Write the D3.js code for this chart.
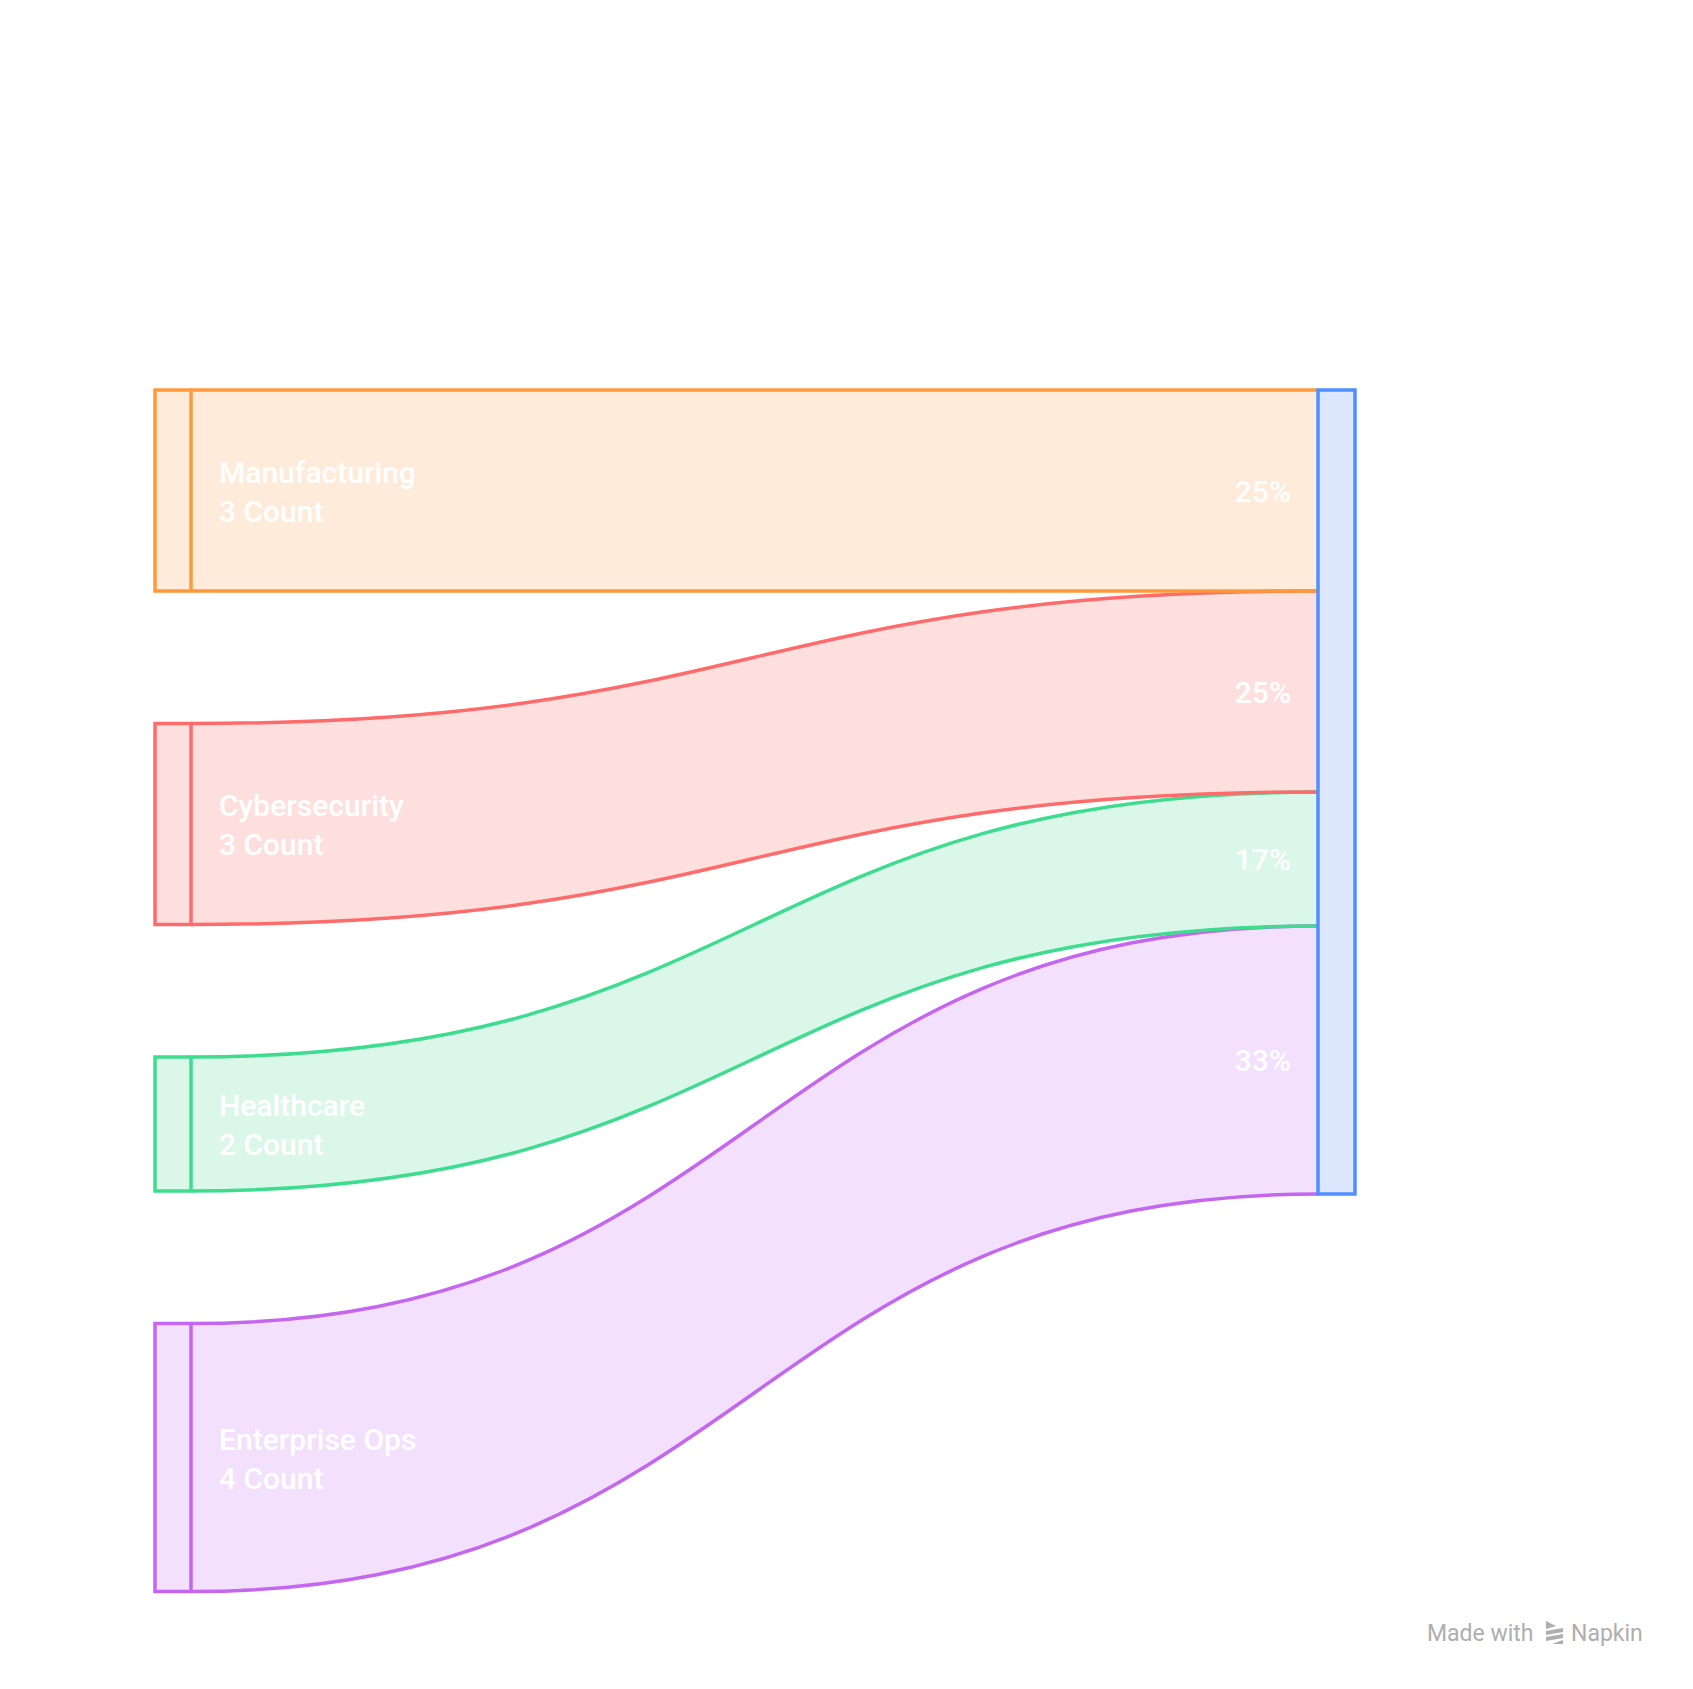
<!DOCTYPE html>
<html>
<head>
<meta charset="utf-8">
<script src="https://cdn.jsdelivr.net/npm/d3@7"></script>
<style>
  body { margin: 0; background: #fff; }
  text { font-family: Roboto, "Noto Sans", sans-serif; }
</style>
</head>
<body>
<div id="chart"></div>
<script>
// data
const sources = ["Manufacturing", "Cybersecurity", "Healthcare", "Enterprise Ops"];
const counts = [3, 3, 2, 4];
const targetName = "SLM Workflows";
const strokeColors = ["#FF9A3C", "#FF6B6B", "#3DDC8F", "#C466F0"];
const fillColors = ["#FFEBD9", "#FDE0DE", "#DBF7EA", "#F3E0FC"];
const title = "SLM Application Domains";
const subtitle = [
  "Small Language Models are versatile tools deployed across manufacturing, cybersecurity, healthcare, and",
  "general enterprise operations to enhance efficiency."
];

const W = 1693, H = 1689;
const total = d3.sum(counts);

const svg = d3.select("#chart").append("svg")
  .attr("width", W)
  .attr("height", H);

// layout
const chartTop = 390, gap = 132.5;
const leftX0 = 155, leftX1 = 191;
const rightX0 = 1318, rightX1 = 1355;
const sw = 3.5;
const h = d3.scaleLinear().domain([0, total]).range([0, 804]);

let yL = chartTop, yR = chartTop;
const nodes = sources.map((s, i) => {
  const n = { name: s, count: counts[i], y0: yL, y1: yL + h(counts[i]), t0: yR, t1: yR + h(counts[i]), i };
  yL = n.y1 + gap;
  yR = n.t1;
  return n;
});

const mx = (leftX1 + rightX0) / 2;
function edge(sy, ty) {
  return `M${leftX1},${sy} C${mx},${sy} ${mx},${ty} ${rightX0},${ty}`;
}
function ribbon(n) {
  return `M${leftX1},${n.y0} C${mx},${n.y0} ${mx},${n.t0} ${rightX0},${n.t0}` +
    ` L${rightX0},${n.t1} C${mx},${n.t1} ${mx},${n.y1} ${leftX1},${n.y1} Z`;
}

// links
const links = svg.append("g");
links.selectAll(".ribbon").data(nodes).join("path")
  .attr("d", ribbon)
  .attr("fill", d => fillColors[d.i]);
links.selectAll(".edgeTop").data(nodes).join("path")
  .attr("d", d => edge(d.y0, d.t0))
  .attr("fill", "none").attr("stroke", d => strokeColors[d.i]).attr("stroke-width", sw);
links.selectAll(".edgeBot").data(nodes).join("path")
  .attr("d", d => edge(d.y1, d.t1))
  .attr("fill", "none").attr("stroke", d => strokeColors[d.i]).attr("stroke-width", sw);

// source nodes
svg.append("g").selectAll("rect").data(nodes).join("rect")
  .attr("x", leftX0).attr("y", d => d.y0)
  .attr("width", leftX1 - leftX0).attr("height", d => d.y1 - d.y0)
  .attr("fill", d => fillColors[d.i])
  .attr("stroke", d => strokeColors[d.i]).attr("stroke-width", sw);

// target node
svg.append("rect")
  .attr("x", rightX0).attr("y", chartTop)
  .attr("width", rightX1 - rightX0).attr("height", h(total))
  .attr("fill", "#DCE7FD").attr("stroke", "#4F8FFF").attr("stroke-width", sw);

// source labels
const lab = svg.append("g").attr("fill", "#fff").style("font-size", "30px").style("font-weight", 500);
nodes.forEach(n => {
  const c = (n.y0 + n.y1) / 2;
  lab.append("text").attr("x", 219).attr("y", c - 8).text(n.name);
  lab.append("text").attr("x", 219).attr("y", c + 31).text(n.count + " Count");
  lab.append("text").attr("x", 1291).attr("y", (n.t0 + n.t1) / 2 + 11)
    .attr("text-anchor", "end")
    .text(Math.round(n.count / total * 100) + "%");
});

// target label
const tc = chartTop + h(total) / 2;
lab.append("text").attr("x", 1383).attr("y", tc - 8).text(targetName);
lab.append("text").attr("x", 1383).attr("y", tc + 32).text(total + " Count");

// column headers
svg.append("text").attr("x", (leftX0 + leftX1) / 2).attr("y", 363)
  .attr("text-anchor", "middle").attr("fill", "#fff").style("font-size", "28px").text("Sources");
svg.append("text").attr("x", (rightX0 + rightX1) / 2).attr("y", 363)
  .attr("text-anchor", "middle").attr("fill", "#fff").style("font-size", "28px").text("Outcomes");

// title & subtitle
svg.append("text").attr("x", 757).attr("y", 132)
  .attr("text-anchor", "middle").attr("fill", "#fff")
  .style("font-size", "40px").style("font-weight", 700).text(title);
subtitle.forEach((s, i) => {
  svg.append("text").attr("x", 745 + i * 22).attr("y", 220 + i * 36)
    .attr("text-anchor", "middle").attr("fill", "#fff")
    .style("font-size", "26px").text(s);
});

// watermark
const wm = svg.append("g").attr("fill", "#AEAEAE");
wm.append("text").attr("x", 1427).attr("y", 1641).style("font-size", "23px").text("Made with");
const logo = wm.append("g").attr("transform", "translate(1546,1621)");
logo.append("path").attr("d", "M0,0 L10,5 L0,8 Z");
logo.append("path").attr("d", "M0,10 L17,7 L17,11 L0,14 Z");
logo.append("path").attr("d", "M0,16 L17,13 L17,17 L0,20 Z");
logo.append("path").attr("d", "M6,23 L17,19 L17,23 Z");
wm.append("text").attr("x", 1571).attr("y", 1641).style("font-size", "23px").text("Napkin");
</script>
</body>
</html>
